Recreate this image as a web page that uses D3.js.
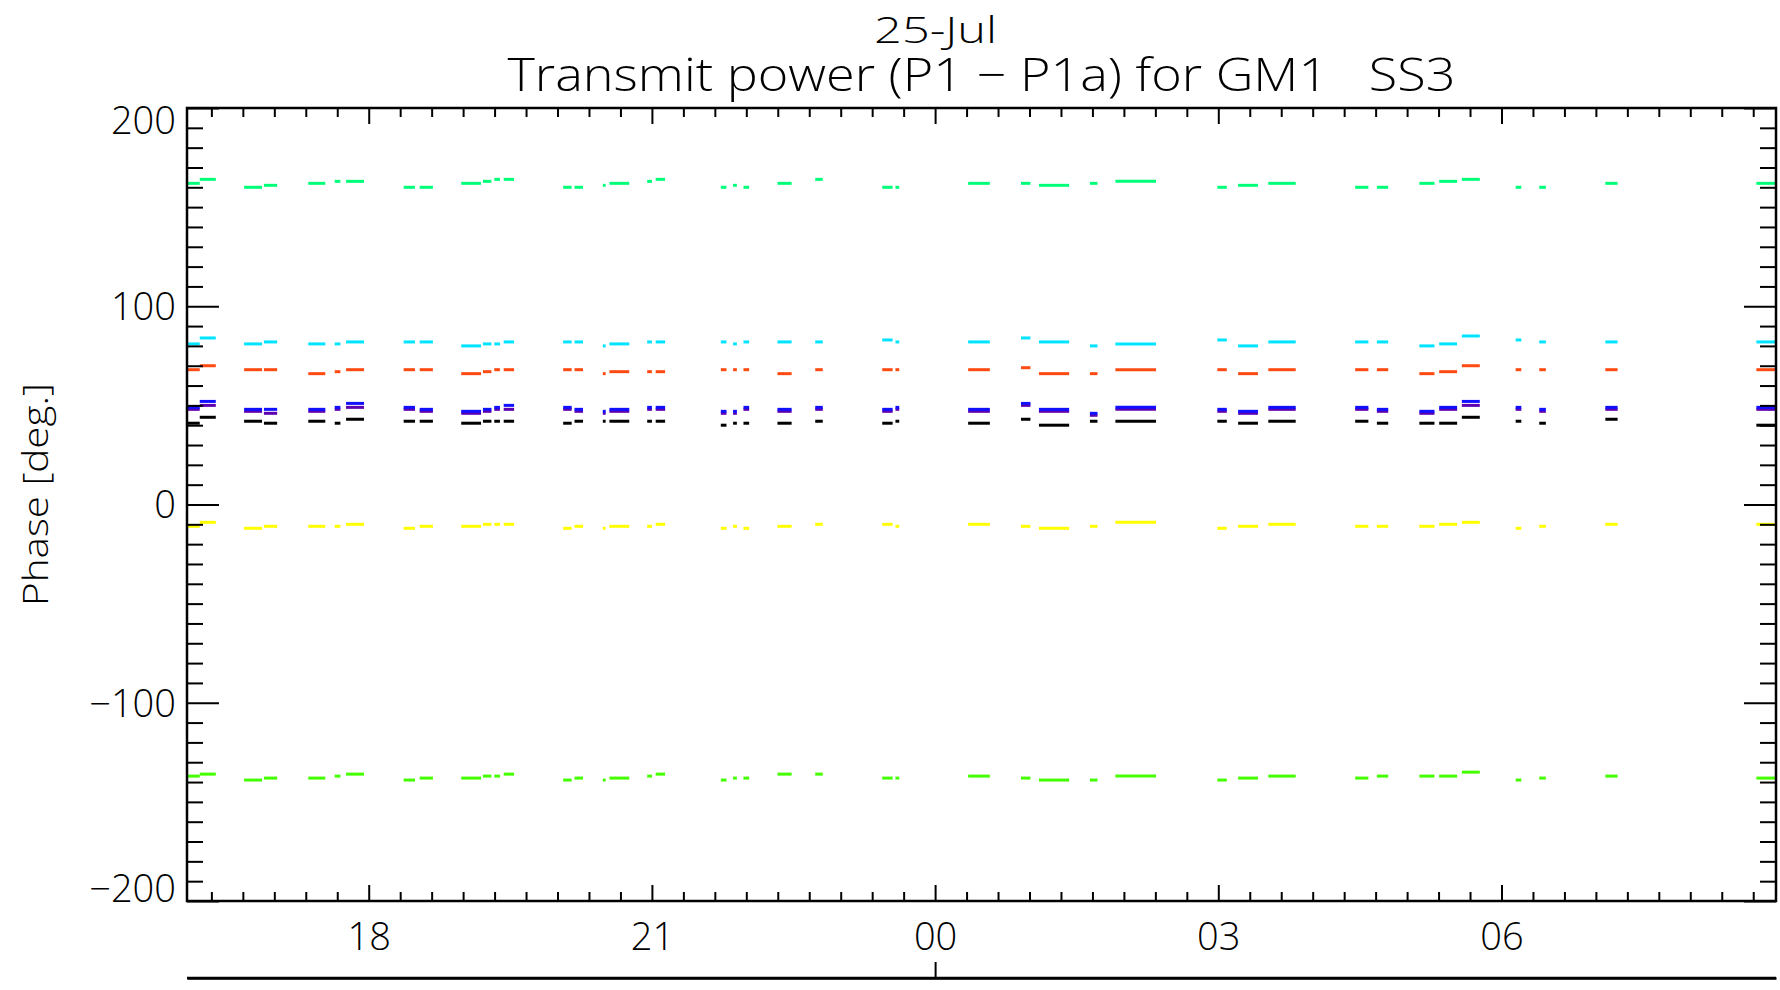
<!DOCTYPE html>
<meta charset="utf-8">
<style>
  body { margin: 0; background: #fff; }
  text { font-family: 'Open Sans', 'DejaVu Sans', sans-serif; font-weight: 300; fill: #000; }
  .tick line { stroke: #000; stroke-width: 2; }
  .domain { stroke: #000; stroke-width: 2.5; }
  .series { fill: none; stroke-width: 3; }
</style>
<body>
<script src="https://d3js.org/d3.v7.min.js"></script>
<script>
// hours counted from 24-Jul 00:00 UT
var dashStart = [16.08, 16.21, 16.68, 16.89, 17.36, 17.64, 17.76, 18.37, 18.54, 18.98, 19.21, 19.33, 19.43, 20.06, 20.18,
  20.48, 20.55, 20.95, 21.04, 21.73, 21.86, 21.97, 22.33, 22.73, 23.44, 23.58, 24.35, 24.91, 25.10, 25.64, 25.91,
  26.99, 27.21, 27.53, 28.45, 28.68, 29.13, 29.34, 29.58, 30.15, 30.40, 31.10, 32.70];
var dashEnd = [16.21, 16.38, 16.87, 17.03, 17.54, 17.70, 17.95, 18.49, 18.68, 19.19, 19.30, 19.39, 19.54, 20.15, 20.27,
  20.51, 20.76, 21.00, 21.14, 21.79, 21.90, 22.03, 22.48, 22.81, 23.55, 23.62, 24.58, 25.01, 25.42, 25.72, 26.34,
  27.09, 27.42, 27.82, 28.59, 28.80, 29.29, 29.53, 29.77, 30.21, 30.47, 31.23, 32.91];

var greenTop = [162, 164, 160, 161, 162, 163, 163, 160, 160, 162, 163, 164, 164, 160, 160, 161, 162, 163, 164, 160, 161, 160,
  162, 164, 160, 160, 162, 162, 161, 162, 163, 160, 161, 162, 160, 160, 162, 163, 164, 160, 160, 162, 162];
var cyan = [81, 84, 81, 82, 81, 81, 82, 82, 82, 80, 81, 81, 82, 82, 82, 80, 81, 82, 82, 82, 81, 82,
  82, 82, 83, 82, 82, 84, 82, 80, 81, 83, 80, 82, 82, 82, 80, 81, 85, 83, 82, 82, 82];
var orange = [68, 70, 68, 68, 66, 67, 68, 68, 68, 66, 67, 68, 68, 68, 68, 66, 67, 67, 67, 68, 68, 68,
  66, 68, 68, 68, 68, 69, 66, 66, 68, 68, 66, 68, 68, 68, 66, 67, 70, 68, 68, 68, 68];
var purple = [48, 50, 47, 46, 47, 48, 49, 48, 47, 46, 47, 48, 48, 48, 47, 46, 47, 48, 48, 46, 46, 48,
  47, 48, 47, 48, 47, 50, 47, 45, 48, 47, 46, 48, 48, 47, 46, 48, 50, 48, 47, 48, 48];
var blue = [49, 52, 48, 48, 48, 49, 51, 49, 48, 47, 48, 49, 50, 49, 48, 47, 48, 49, 49, 47, 47, 49,
  48, 49, 48, 49, 48, 51, 48, 46, 49, 48, 47, 49, 49, 48, 47, 49, 52, 49, 48, 49, 49];
var black = [41, 44, 42, 41, 42, 41, 43, 42, 42, 41, 42, 42, 42, 41, 42, 42, 42, 42, 42, 40, 41, 41,
  41, 42, 41, 42, 41, 43, 40, 42, 42, 42, 41, 42, 42, 41, 41, 41, 44, 42, 41, 43, 40];
var yellow = [-11, -9, -12, -11, -11, -11, -10, -12, -11, -11, -10, -10, -10, -12, -11, -12, -11, -11, -10, -12, -11, -12,
  -11, -10, -10, -11, -10, -11, -12, -11, -9, -12, -11, -10, -11, -11, -11, -10, -9, -12, -11, -10, -10];
var greenBottom = [-137, -136, -139, -138, -138, -137, -136, -139, -138, -138, -137, -137, -136, -139, -138, -139, -138,
  -137, -136, -139, -138, -138, -136, -136, -138, -138, -137, -138, -139, -139, -137, -139, -138, -137, -138, -137,
  -137, -137, -135, -139, -138, -137, -138];

var seriesList = [greenTop, cyan, orange, purple, blue, black, yellow, greenBottom];
var seriesColors = ["#00ff78", "#00e4ff", "#ff4a12", "#5c00b0", "#1010ff", "#000000", "#ffff00", "#44ff00"];

var yMajor = [-200, -100, 0, 100, 200];
var tStart = 16.075, tEnd = 32.908;
var titleText = "Transmit power (P1 \u2212 P1a) for GM1   SS3";
var yTitle = "Phase [deg.]";

var width = 1780, height = 990;
var pLeft = 187, pRight = 1776, pTop = 108, pBottom = 901;

var day0 = Date.UTC(2010, 6, 24);
function hr(h) { return new Date(day0 + h * 3600e3); }

var svg = d3.select("body").append("svg")
    .attr("width", width)
    .attr("height", height);

var x = d3.scaleUtc().domain([hr(tStart), hr(tEnd)]).range([pLeft, pRight]);
var y = d3.scaleLinear().domain([-200, 200]).range([pBottom, pTop]);

svg.append("clipPath").attr("id", "clip")
  .append("rect").attr("x", pLeft).attr("y", pTop).attr("width", pRight - pLeft).attr("height", pBottom - pTop);

var line = d3.line()
    .x(function(d) { return x(hr(d[0])); })
    .y(function(d) { return y(d[1]); });

var plot = svg.append("g").attr("clip-path", "url(#clip)");
seriesList.forEach(function(vals, s) {
  plot.selectAll(null)
    .data(vals.map(function(v, i) { return [[dashStart[i], v], [dashEnd[i], v]]; }))
  .enter().append("path")
    .attr("class", "series")
    .attr("stroke", seriesColors[s])
    .attr("d", line);
});

var majorHours = d3.utcHour.every(3);
var minorTimes = x.ticks(d3.utcMinute.every(20)).filter(function(d) { return d.getUTCMinutes() != 0 || d.getUTCHours() % 3 != 0; });
var minorY = d3.range(-200, 201, 10).filter(function(v) { return v % 100 != 0; });
var fmtY = function(d) { return d < 0 ? "\u2212" + Math.abs(d) : d; };

// bottom axis with labels
var xb = svg.append("g").attr("transform", "translate(0," + pBottom + ")")
  .call(d3.axisBottom(x).ticks(majorHours).tickFormat(d3.utcFormat("%H")).tickSize(-16).tickPadding(22).tickSizeOuter(0));
xb.selectAll("text").style("font-size", "38px");
svg.append("g").attr("transform", "translate(0," + pBottom + ")")
  .call(d3.axisBottom(x).tickValues(minorTimes).tickFormat("").tickSize(-9).tickSizeOuter(0));

// top axis, ticks only
svg.append("g").attr("transform", "translate(0," + pTop + ")")
  .call(d3.axisTop(x).ticks(majorHours).tickFormat("").tickSize(-16).tickSizeOuter(0));
svg.append("g").attr("transform", "translate(0," + pTop + ")")
  .call(d3.axisTop(x).tickValues(minorTimes).tickFormat("").tickSize(-9).tickSizeOuter(0));

// left axis
var yl = svg.append("g").attr("transform", "translate(" + pLeft + ",0)")
  .call(d3.axisLeft(y).tickValues(yMajor).tickFormat(fmtY).tickSize(-32).tickPadding(11).tickSizeOuter(0));
yl.selectAll("text").style("font-size", "38px")
  .attr("dy", function(d) { return d == 200 ? "0.66em" : d == -200 ? "0.02em" : "0.35em"; });
svg.append("g").attr("transform", "translate(" + pLeft + ",0)")
  .call(d3.axisLeft(y).tickValues(minorY).tickFormat("").tickSize(-16).tickSizeOuter(0));

// right axis, ticks only
svg.append("g").attr("transform", "translate(" + pRight + ",0)")
  .call(d3.axisRight(y).tickValues(yMajor).tickFormat("").tickSize(-32).tickSizeOuter(0));
svg.append("g").attr("transform", "translate(" + pRight + ",0)")
  .call(d3.axisRight(y).tickValues(minorY).tickFormat("").tickSize(-16).tickSizeOuter(0));

svg.selectAll(".domain").remove();

svg.append("rect")
  .attr("x", pLeft).attr("y", pTop)
  .attr("width", pRight - pLeft).attr("height", pBottom - pTop)
  .attr("fill", "none").attr("stroke", "#000").attr("stroke-width", 2.5);

// day axis below
var midnight = d3.utcDay.range(hr(tStart), hr(tEnd));
var dayAxis = svg.append("g").attr("transform", "translate(0,978)")
  .call(d3.axisTop(x).tickValues(midnight).tickFormat("").tickSize(16).tickSizeOuter(0));
dayAxis.append("line")
  .attr("x1", pLeft).attr("x2", pRight)
  .attr("stroke", "#000").attr("stroke-width", 2.5);

// titles
svg.append("text")
  .attr("x", x(midnight[0]) - 61).attr("y", 43)
  .attr("textLength", 123).attr("lengthAdjust", "spacingAndGlyphs")
  .style("font-size", "36px")
  .text(d3.utcFormat("%d-%b")(midnight[0]));

svg.append("text")
  .attr("x", (pLeft + pRight) / 2 - 474).attr("y", 91)
  .attr("textLength", 948).attr("lengthAdjust", "spacingAndGlyphs")
  .style("font-size", "46px")
  .style("white-space", "pre")
  .text(titleText);

svg.append("text")
  .attr("transform", "translate(48,495) rotate(-90)")
  .attr("x", -111)
  .attr("textLength", 223).attr("lengthAdjust", "spacingAndGlyphs")
  .style("font-size", "34px")
  .text(yTitle);
</script>
